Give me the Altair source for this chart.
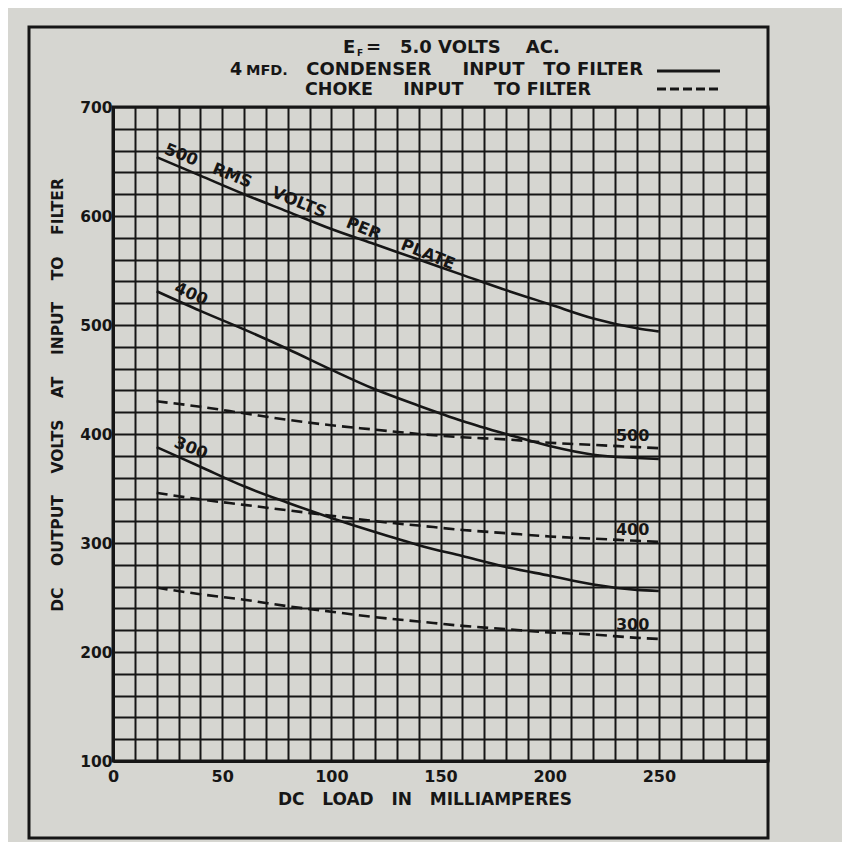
import altair as alt
import pandas as pd

# ---- data ----
load_ma = [20, 40, 60, 80, 100, 120, 140, 160, 180, 200, 220, 240, 250]
cond_500 = [654, 637, 620, 604, 588, 574, 560, 546, 532, 519, 506, 497, 494]
cond_400 = [531, 513, 496, 478, 459, 441, 426, 412, 400, 389, 381, 378, 377]
cond_300 = [388, 370, 352, 337, 323, 310, 298, 288, 278, 270, 262, 257, 256]
choke_500 = [430, 425, 419, 413, 408, 404, 400, 397, 395, 392, 390, 388, 387]
choke_400 = [346, 340, 335, 330, 325, 320, 316, 312, 309, 306, 304, 302, 301]
choke_300 = [259, 253, 248, 242, 237, 232, 228, 224, 221, 218, 216, 213, 212]

x_grid = list(range(0, 301, 10))
y_grid = list(range(100, 701, 20))

NB = "\u00a0"
curve_label_text = ["500" + NB * 3 + "RMS" + NB * 4 + "VOLTS" + NB * 4 + "PER" + NB * 4 + "PLATE", "400", "300"]
curve_label_x = [22.5, 27, 27]
curve_label_v = [655, 528, 386]
curve_label_angle = [22, 24, 22]

choke_label_text = ["500", "400", "300"]
choke_label_x = [238, 238, 238]
choke_label_v = [398, 312, 225]

rows = []
for name, kind, vals in [
    ("500", "condenser", cond_500), ("400", "condenser", cond_400), ("300", "condenser", cond_300),
    ("500", "choke", choke_500), ("400", "choke", choke_400), ("300", "choke", choke_300),
]:
    for x, v in zip(load_ma, vals):
        rows.append({"load": x, "volts": v, "curve": name, "input": kind})
df = pd.DataFrame(rows)

INK = "#161616"
PAPER = "#d6d6d1"
FONT = "DejaVu Sans"
W, H = 655, 654

XS = alt.Scale(domain=[0, 300], nice=False, zero=False)
YS = alt.Scale(domain=[100, 700], nice=False, zero=False)

x_axis = alt.Axis(
    values=x_grid, labelExpr="datum.value % 50 == 0 && datum.value <= 250 ? datum.label : ''",
    grid=True, gridColor=INK, gridWidth=2, gridOpacity=1, ticks=False,
    domainColor=INK, domainWidth=3, labelFont=FONT, labelFontSize=16, labelFontWeight="bold",
    labelColor=INK, labelPadding=7, labelFlush=False, labelOverlap=False, title=None,
)
y_axis = alt.Axis(
    values=y_grid, labelExpr="datum.value % 100 == 0 ? datum.label : ''",
    grid=True, gridColor=INK, gridWidth=2, gridOpacity=1, ticks=False,
    domainColor=INK, domainWidth=3, labelFont=FONT, labelFontSize=15.5, labelFontWeight="bold",
    labelColor=INK, labelPadding=1, labelFlush=False, labelOverlap=False, title=None,
)


def X():
    return alt.X("load:Q", scale=XS, axis=x_axis)


def Y():
    return alt.Y("volts:Q", scale=YS, axis=y_axis)


base = alt.Chart(df)
solid = base.transform_filter(alt.datum.input == "condenser").mark_line(
    color=INK, strokeWidth=2.6, interpolate="monotone"
).encode(x=X(), y=Y(), detail="curve:N")
dashed = base.transform_filter(alt.datum.input == "choke").mark_line(
    color=INK, strokeWidth=2.6, strokeDash=[11, 6], interpolate="monotone"
).encode(x=X(), y=Y(), detail="curve:N")

clab = pd.DataFrame({"load": curve_label_x, "volts": curve_label_v, "t": curve_label_text, "a": curve_label_angle})
curve_labels = alt.Chart(clab).mark_text(
    align="left", baseline="bottom", font=FONT, fontSize=16.5, fontWeight="bold", color=INK
).encode(x=X(), y=Y(), text="t:N", angle=alt.Angle("a:Q", scale=None))

chlab = pd.DataFrame({"load": choke_label_x, "volts": choke_label_v, "t": choke_label_text})
choke_labels = alt.Chart(chlab).mark_text(
    align="center", baseline="middle", font=FONT, fontSize=16, fontWeight="bold", color=INK
).encode(x=X(), y=Y(), text="t:N")

one = alt.Data(values=[{"k": 1}])


def ptext(text, px, py, size=15, align="left", baseline="alphabetic", angle=0):
    m = alt.Chart(one).mark_text(
        text=text, align=align, baseline=baseline, font=FONT, fontSize=size,
        fontWeight="bold", color=INK, angle=angle,
    )
    return m.encode(x=alt.value(px), y=alt.value(py))


# plot origin is at page (113, 107)
texts = [
    ptext("E", 230, -54, 18),
    ptext("F", 244, -51, 9),
    ptext("=" + NB * 3 + "5.0" + NB + "VOLTS" + NB * 4 + "AC.", 253, -54, 18),
    ptext("4", 117, -32, 17.5),
    ptext("MFD.", 133, -32, 14.5),
    ptext("CONDENSER" + NB * 5 + "INPUT" + NB * 3 + "TO" + NB + "FILTER", 530, -32, 18, align="right"),
    ptext("CHOKE" + NB * 5 + "INPUT" + NB * 5 + "TO" + NB + "FILTER", 192, -12, 17.5),
    ptext("DC" + NB * 3 + "LOAD" + NB * 3 + "IN" + NB * 3 + "MILLIAMPERES", 312, 693, 17,
          align="center", baseline="middle"),
    ptext("DC" + NB * 4 + "OUTPUT" + NB * 4 + "VOLTS" + NB * 4 + "AT" + NB * 4 + "INPUT" + NB * 4 + "TO"
          + NB * 4 + "FILTER", -55, 288, 15.5, align="center", baseline="middle", angle=270),
]

legend_solid = alt.Chart(one).mark_rule(color=INK, strokeWidth=3).encode(
    x=alt.value(544), x2=alt.value(607), y=alt.value(-36)
)
legend_dash = alt.Chart(one).mark_rule(color=INK, strokeWidth=3, strokeDash=[9, 4]).encode(
    x=alt.value(544), x2=alt.value(607), y=alt.value(-18)
)
frame = alt.Chart(one).mark_rect(fillOpacity=0, stroke=INK, strokeWidth=3).encode(
    x=alt.value(-84), x2=alt.value(655), y=alt.value(-80), y2=alt.value(731)
)

chart = alt.layer(
    solid, dashed, curve_labels, choke_labels, legend_solid, legend_dash, frame, *texts
).properties(
    width=W, height=H,
    padding={"left": 105, "top": 99, "right": 74, "bottom": 81},
    autosize=alt.AutoSizeParams(type="none"),
).configure(background=PAPER).configure_view(stroke=INK, strokeWidth=3)

chart.save("out.html", embed_options={"renderer": "svg", "actions": False})
